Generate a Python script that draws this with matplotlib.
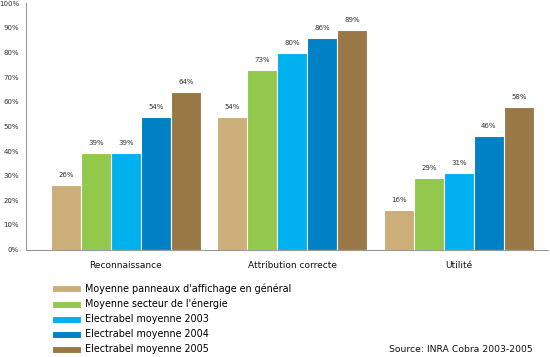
import matplotlib
matplotlib.use("Agg")
import matplotlib.pyplot as plt
import numpy as np

categories = ["Reconnaissance", "Attribution correcte", "Utilité"]
series_names = [
    "Moyenne panneaux d'affichage en général",
    "Moyenne secteur de l'énergie",
    "Electrabel moyenne 2003",
    "Electrabel moyenne 2004",
    "Electrabel moyenne 2005",
]
values = [
    [26, 54, 16],
    [39, 73, 29],
    [39, 80, 31],
    [54, 86, 46],
    [64, 89, 58],
]
colors = ["#CBAE78", "#92C84B", "#00B0EF", "#0080C5", "#9A7845"]
yticks = list(range(0, 101, 10))
ytick_labels = [f"{t}%" for t in yticks]
source = "Source: INRA Cobra 2003-2005"

W, H = 550, 357
fig = plt.figure(figsize=(W / 100, H / 100), dpi=100)
ax = fig.add_axes([26 / W, 1 - 249.5 / H, (548 - 26) / W, (249.5 - 3.3) / H])

x = np.arange(len(categories))
bw = 0.18
for i, (name, vals, c) in enumerate(zip(series_names, values, colors)):
    pos = x + (i - 2) * bw
    ax.bar(pos, vals, width=bw, color=c, edgecolor="white", linewidth=0.8, label=name)
    for p, v in zip(pos, vals):
        ax.annotate(f"{v}%", (p, v), xytext=(0, 7.2), textcoords="offset points",
                    ha="center", va="center", fontsize=5, color="#333333")

ax.set_xlim(-0.60, 2.535)
ax.set_ylim(0, 100)
ax.set_yticks(yticks)
ax.set_yticklabels(ytick_labels)
ax.set_xticks(x)
ax.set_xticklabels(categories)
ax.tick_params(axis="y", length=0, pad=5, labelsize=5, labelcolor="#333333")
ax.tick_params(axis="x", length=0, pad=8, labelsize=6.5, labelcolor="#111111")
for s in ["top", "right"]:
    ax.spines[s].set_visible(False)
for s in ["left", "bottom"]:
    ax.spines[s].set_color("#999999")
    ax.spines[s].set_linewidth(0.8)

fig.legend(loc="upper left", bbox_to_anchor=(51.7 / W, 1 - 283.5 / H),
           frameon=False, fontsize=6.9, handlelength=3.05, handleheight=0.72,
           handletextpad=0.44, labelspacing=0.52, borderpad=0, borderaxespad=0)

fig.text(533 / W, 1 - 349 / H, source, ha="right", va="center", fontsize=6.7, color="#111111")

fig.savefig("out.png", dpi=100)
